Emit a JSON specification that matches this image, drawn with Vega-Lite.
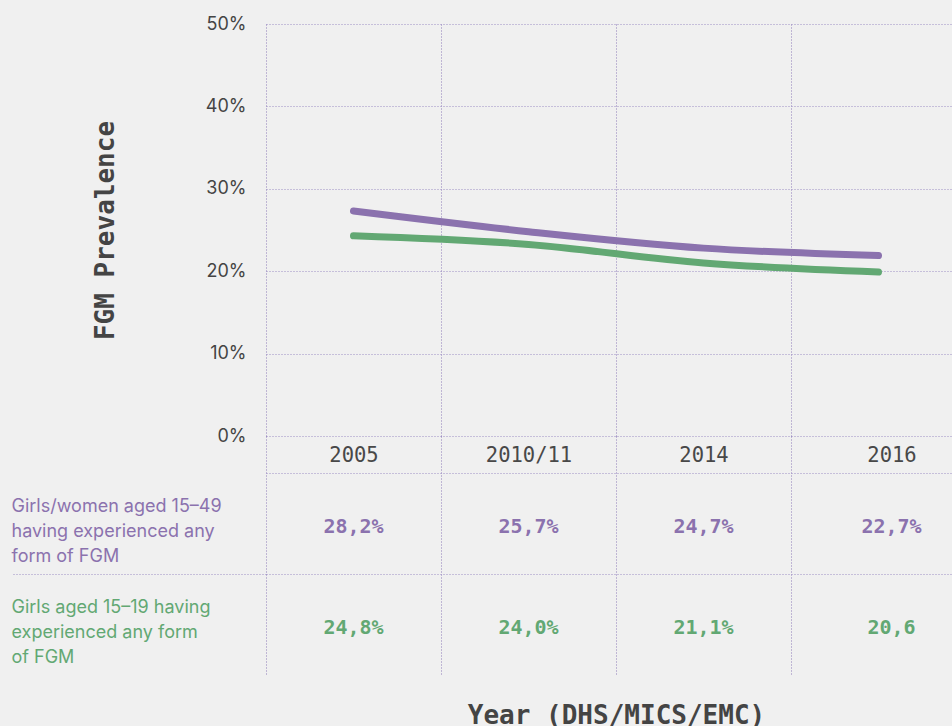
{
  "$schema": "https://vega.github.io/schema/vega-lite/v6.json",
  "background": "#f0f0f0",
  "padding": {"left": 10, "top": 15, "right": 0, "bottom": 0},
  "bounds": "flush",
  "spacing": 37,
  "datasets": {
    "series": [
      {"year": "2005", "group": "Girls/women aged 15–49 having experienced any form of FGM", "value": 27.3},
      {"year": "2010/11", "group": "Girls/women aged 15–49 having experienced any form of FGM", "value": 24.8},
      {"year": "2014", "group": "Girls/women aged 15–49 having experienced any form of FGM", "value": 22.8},
      {"year": "2016", "group": "Girls/women aged 15–49 having experienced any form of FGM", "value": 21.9},
      {"year": "2005", "group": "Girls aged 15–19 having experienced any form of FGM", "value": 24.3},
      {"year": "2010/11", "group": "Girls aged 15–19 having experienced any form of FGM", "value": 23.25},
      {"year": "2014", "group": "Girls aged 15–19 having experienced any form of FGM", "value": 21.0},
      {"year": "2016", "group": "Girls aged 15–19 having experienced any form of FGM", "value": 19.9}
    ],
    "table": [
      {"year": "2005", "group": "Girls/women aged 15–49 having experienced any form of FGM", "label": "28,2%"},
      {"year": "2010/11", "group": "Girls/women aged 15–49 having experienced any form of FGM", "label": "25,7%"},
      {"year": "2014", "group": "Girls/women aged 15–49 having experienced any form of FGM", "label": "24,7%"},
      {"year": "2016", "group": "Girls/women aged 15–49 having experienced any form of FGM", "label": "22,7%"},
      {"year": "2005", "group": "Girls aged 15–19 having experienced any form of FGM", "label": "24,8%"},
      {"year": "2010/11", "group": "Girls aged 15–19 having experienced any form of FGM", "label": "24,0%"},
      {"year": "2014", "group": "Girls aged 15–19 having experienced any form of FGM", "label": "21,1%"},
      {"year": "2016", "group": "Girls aged 15–19 having experienced any form of FGM", "label": "20,6"}
    ]
  },
  "vconcat": [
    {
      "width": 700,
      "height": 412,
      "data": {"name": "series"},
      "mark": {"type": "line", "interpolate": "monotone", "strokeWidth": 7, "strokeCap": "round"},
      "encoding": {
        "x": {
          "field": "year", "type": "nominal", "sort": ["2005", "2010/11", "2014", "2016"],
          "scale": {"type": "band", "paddingInner": 0, "paddingOuter": 0},
          "axis": {
            "orient": "bottom", "tickBand": "extent", "grid": true, "gridColor": "#8e7cb8", "gridDash": [1, 2],
            "ticks": true, "tickSize": 239, "tickColor": "#8e7cb8", "tickDash": [1, 2], "domain": false,
            "labelPadding": -220, "labelBaseline": "middle", "labelAngle": 0,
            "labelOffset": {"condition": {"test": "datum.value == '2016'", "value": 13}, "value": 0},
            "labelFont": "DejaVu Sans Mono", "labelFontSize": 20.5, "labelColor": "#484848", "title": null
          }
        },
        "y": {
          "field": "value", "type": "quantitative",
          "scale": {"domain": [0, 50]},
          "axis": {
            "values": [0, 10, 20, 30, 40, 50], "labelExpr": "datum.value + '%'",
            "grid": true, "gridColor": "#9d8fc4", "gridDash": [1, 2], "ticks": false, "domain": false,
            "labelPadding": 20, "labelFont": "Inter", "labelFontSize": 18, "labelColor": "#444444",
            "title": "FGM Prevalence", "titleFont": "DejaVu Sans Mono", "titleFontSize": 26,
            "titleFontWeight": "bold", "titleColor": "#444444", "titlePadding": 87
          }
        },
        "color": {
          "field": "group", "type": "nominal",
          "scale": {"domain": ["Girls/women aged 15–49 having experienced any form of FGM", "Girls aged 15–19 having experienced any form of FGM"], "range": ["#8B72AE", "#62A873"]},
          "legend": null
        }
      }
    },
    {
      "width": 700,
      "height": 202,
      "data": {"name": "table"},
      "mark": {"type": "text", "font": "DejaVu Sans Mono", "fontWeight": "bold", "fontSize": 20, "dy": 3,
               "dx": {"expr": "datum.year == '2016' ? 13 : 0"}},
      "encoding": {
        "x": {
          "field": "year", "type": "nominal", "sort": ["2005", "2010/11", "2014", "2016"],
          "scale": {"type": "band", "paddingInner": 0, "paddingOuter": 0},
          "axis": {
            "orient": "bottom", "labels": false, "ticks": false, "domain": false, "grid": false,
            "title": "Year (DHS/MICS/EMC)", "titleFont": "DejaVu Sans Mono", "titleFontSize": 26,
            "titleFontWeight": "bold", "titleColor": "#444444", "titlePadding": 27
          }
        },
        "y": {
          "field": "group", "type": "nominal",
          "sort": ["Girls/women aged 15–49 having experienced any form of FGM", "Girls aged 15–19 having experienced any form of FGM"],
          "scale": {"type": "band", "paddingInner": 0, "paddingOuter": 0},
          "axis": {
            "orient": "left", "bandPosition": 0, "grid": true, "gridColor": "#9d8fc4", "gridDash": [1, 2],
            "ticks": true, "tickSize": 255, "tickColor": "#9d8fc4", "tickDash": [1, 2],
            "tickOpacity": {"condition": {"test": "datum.value == 'Girls aged 15–19 having experienced any form of FGM'", "value": 1}, "value": 0},
            "domain": false, "labelAlign": "left", "labelBaseline": "top", "labelPadding": 0, "labelOffset": -26,
            "labelFont": "Inter", "labelFontSize": 18, "labelLineHeight": 25, "labelLimit": 0,
            "labelColor": {"condition": {"test": "datum.value == 'Girls aged 15–19 having experienced any form of FGM'", "value": "#62A873"}, "value": "#8B72AE"},
            "labelExpr": "datum.value == 'Girls aged 15–19 having experienced any form of FGM' ? ['Girls aged 15–19 having', 'experienced any form', 'of FGM'] : ['Girls/women aged 15–49', 'having experienced any', 'form of FGM']",
            "title": null
          }
        },
        "text": {"field": "label", "type": "nominal"},
        "color": {
          "field": "group", "type": "nominal",
          "scale": {"domain": ["Girls/women aged 15–49 having experienced any form of FGM", "Girls aged 15–19 having experienced any form of FGM"], "range": ["#8B72AE", "#62A873"]},
          "legend": null
        }
      }
    }
  ],
  "config": {"view": {"stroke": null}}
}
